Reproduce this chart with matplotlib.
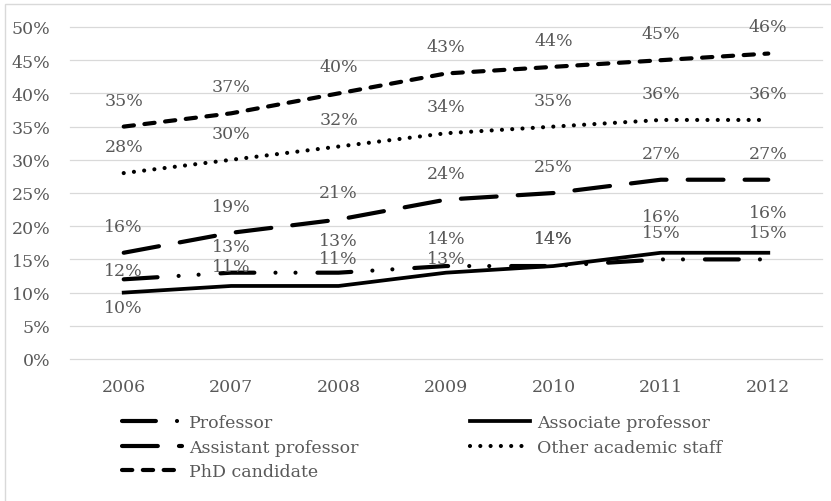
import matplotlib
matplotlib.use("Agg")
import matplotlib.pyplot as plt
from matplotlib.patches import Rectangle

plt.rcParams['font.family'] = ['DejaVu Serif']
plt.rcParams['lines.scale_dashes'] = False

years = ['2006', '2007', '2008', '2009', '2010', '2011', '2012']
professor = [12, 13, 13, 14, 14, 15, 15]
associate = [10, 11, 11, 13, 14, 16, 16]
assistant = [16, 19, 21, 24, 25, 27, 27]
other_staff = [28, 30, 32, 34, 35, 36, 36]
phd = [35, 37, 40, 43, 44, 45, 46]

# how far above each point its label sits (in % points)
prof_shift = [1.4, 4.0, 4.8, 4.1, 4.1, 4.1, 4.1]
assoc_shift = [-2.2, 3.0, 4.1, 2.2, 4.1, 5.4, 6.1]
default_shift = [4.0] * 7

grey = '#595959'
fs = 12.5
fig = plt.figure(figsize=(8.31, 5.02), dpi=100)
ax = fig.add_axes([70/831, 1-360/502, 752/831, 332/502])

x = list(range(len(years)))
lines = {}
lines['Professor'] = ax.plot(x, professor, color='black', lw=3, dash_capstyle='round',
                             dashes=(24.4, 15.2, 0.01, 14.4, 0.01, 15.8), label='Professor')[0]
lines['Associate professor'] = ax.plot(x, associate, color='black', lw=2.7,
                                       label='Associate professor')[0]
lines['Assistant professor'] = ax.plot(x, assistant, color='black', lw=3, dash_capstyle='round',
                                       dashes=(25.8, 15.2), label='Assistant professor')[0]
lines['Other academic staff'] = ax.plot(x, other_staff, color='black', lw=3, dash_capstyle='round',
                                        dashes=(0.01, 7.4), label='Other academic staff')[0]
lines['PhD candidate'] = ax.plot(x, phd, color='black', lw=3, dash_capstyle='round',
                                 dashes=(7.4, 7.6), label='PhD candidate')[0]

for vals, shifts in [(phd, default_shift), (other_staff, default_shift), (assistant, default_shift),
                     (professor, prof_shift), (associate, assoc_shift)]:
    for i, v in enumerate(vals):
        ax.text(i, v + shifts[i], f'{v}%', ha='center', va='center', fontsize=fs, color=grey)

ax.set_xlim(-0.5, 6.5)
ax.set_ylim(0, 50)
ax.set_yticks(range(0, 51, 5))
ax.set_yticklabels([f'{t}%' for t in range(0, 51, 5)])
ax.set_xticks(x)
ax.set_xticklabels(years)
ax.tick_params(axis='both', length=0, labelsize=fs, labelcolor=grey)
ax.tick_params(axis='y', pad=14)
ax.tick_params(axis='x', pad=14)
ax.grid(axis='y', color='#d9d9d9', lw=0.9)
for gl in ax.get_ygridlines():
    gl.set_clip_on(False)
ax.set_axisbelow(True)
for s in ax.spines.values():
    s.set_visible(False)

order = ['Professor', 'Assistant professor', 'PhD candidate', 'Associate professor', 'Other academic staff']
leg = fig.legend([lines[k] for k in order], order, ncol=2, loc='upper left',
                 bbox_to_anchor=(122/831, 1-415/502), frameon=False, fontsize=fs,
                 handlelength=3.45, handletextpad=0.4, columnspacing=6.45,
                 labelspacing=0.44, borderpad=0, borderaxespad=0)
for t in leg.get_texts():
    t.set_color(grey)

fig.add_artist(Rectangle((5/831, -0.02), 1.02, 1.02 - 4.5/502, transform=fig.transFigure,
                         fill=False, edgecolor='#d9d9d9', lw=1))

fig.savefig('out.png', dpi=100)
